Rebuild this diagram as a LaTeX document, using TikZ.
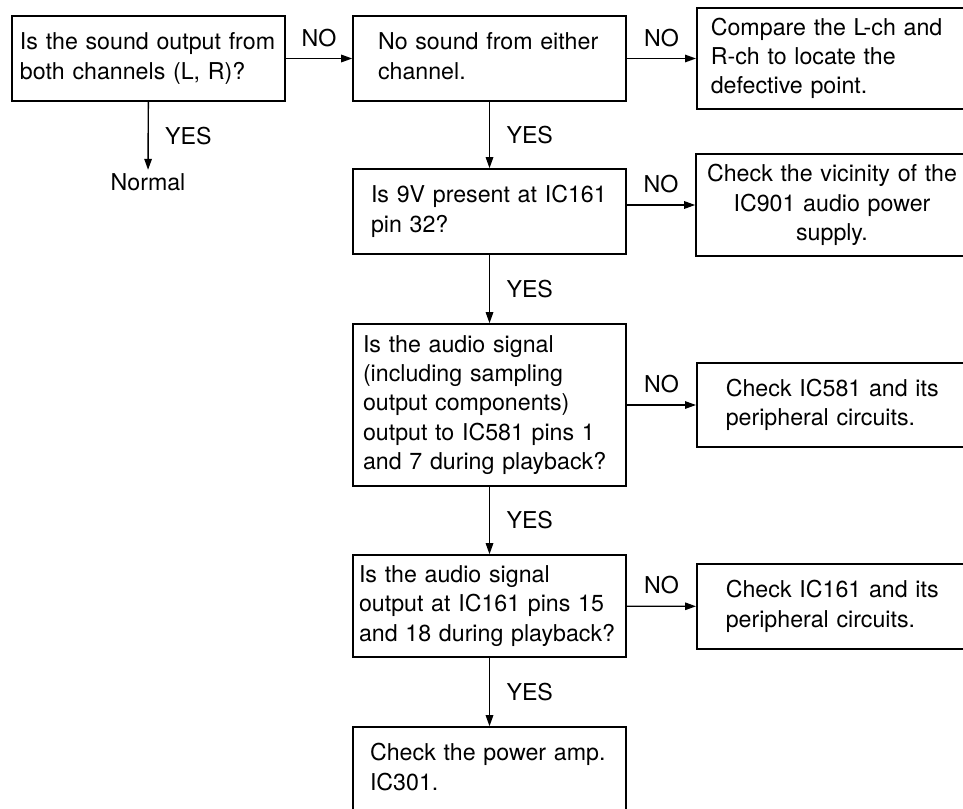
\documentclass[tikz,border=0pt]{standalone}
\usepackage{fontspec}
\setmainfont{TeX Gyre Heros}
\usetikzlibrary{arrows.meta}
% text lines set in from the left edge of a box
\newcommand{\boxtext}[2]{\begin{tabular}{@{\hspace{#1}}l@{}}#2\end{tabular}}

\begin{document}
\begin{tikzpicture}[x=1pt, y=-1pt,
  every node/.style={font=\fontsize{23.2}{29.3}\selectfont},
  box/.style={draw, line width=1.6pt, align=left, inner xsep=0pt, inner ysep=0pt},
  flow/.style={line width=1.4pt, -{Triangle[length=11pt,width=7.5pt]}}]
\useasboundingbox (0,0) rectangle (963,808);
% ---- main column
\node[box, text width=273pt, minimum height=85pt] (sound) at (148.5,58.5)
  {\boxtext{8pt}{Is the sound output from\\ both channels (L, R)?}};
\node (normal) at (148,182) {Normal};
\node[box, text width=273pt, minimum height=85pt] (either) at (489.5,58.5)
  {\boxtext{25pt}{No sound from either\\ channel.}};
\node[box, text width=273pt, minimum height=85pt] (ninev) at (489.5,211.5)
  {\boxtext{18pt}{Is 9V present at IC161\\ pin 32?}};
\node[box, text width=273pt, minimum height=162pt] (sampling) at (489.5,405)
  {\boxtext{10pt}{Is the audio signal\\ (including sampling\\ output components)\\
   output to IC581 pins 1\\ and 7 during playback?}};
\node[box, text width=273pt, minimum height=102pt] (pins) at (489.5,606)
  {\boxtext{6pt}{Is the audio signal\\ output at IC161 pins 15\\ and 18 during playback?}};
\node[box, text width=273pt, minimum height=85pt] (amp) at (489.5,769.5)
  {\boxtext{17pt}{Check the power amp.\\ IC301.}};
% ---- right column
\node[box, anchor=west, text width=280pt, minimum height=101pt] (compare) at (696,58.5)
  {\boxtext{14pt}{Compare the L-ch and\\ R-ch to locate the\\ defective point.}};
\node[box, align=center, text width=272pt, minimum height=102pt] (vicinity) at (832,205)
  {Check the vicinity of the\\ IC901 audio power\\ supply.};
\node[box, anchor=west, text width=280pt, minimum height=84pt] (icA) at (696,405)
  {\boxtext{29pt}{Check IC581 and its\\ peripheral circuits.}};
\node[box, anchor=west, text width=280pt, minimum height=85pt] (icB) at (696,606.5)
  {\boxtext{29pt}{Check IC161 and its\\ peripheral circuits.}};
% ---- connectors
\draw[flow] (sound) -- node[midway, above=8pt] {NO} (either);
\draw[flow] (sound) -- node[midway, right=13pt] {YES} (normal);
\draw[flow] (either) -- node[midway, above=8pt] {NO} (compare);
\draw[flow] (either) -- node[midway, right=13pt] {YES} (ninev);
\draw[flow] (vicinity.west -| ninev.east) -- node[midway, above=8pt] {NO} (vicinity.west);
\draw[flow] (ninev) -- node[midway, right=13pt] {YES} (sampling);
\draw[flow] (sampling) -- node[midway, above=8pt] {NO} (icA);
\draw[flow] (sampling) -- node[midway, right=13pt] {YES} (pins);
\draw[flow] (pins) -- node[midway, above=8pt] {NO} (icB);
\draw[flow] (pins) -- node[midway, right=13pt] {YES} (amp);
\end{tikzpicture}
\end{document}
